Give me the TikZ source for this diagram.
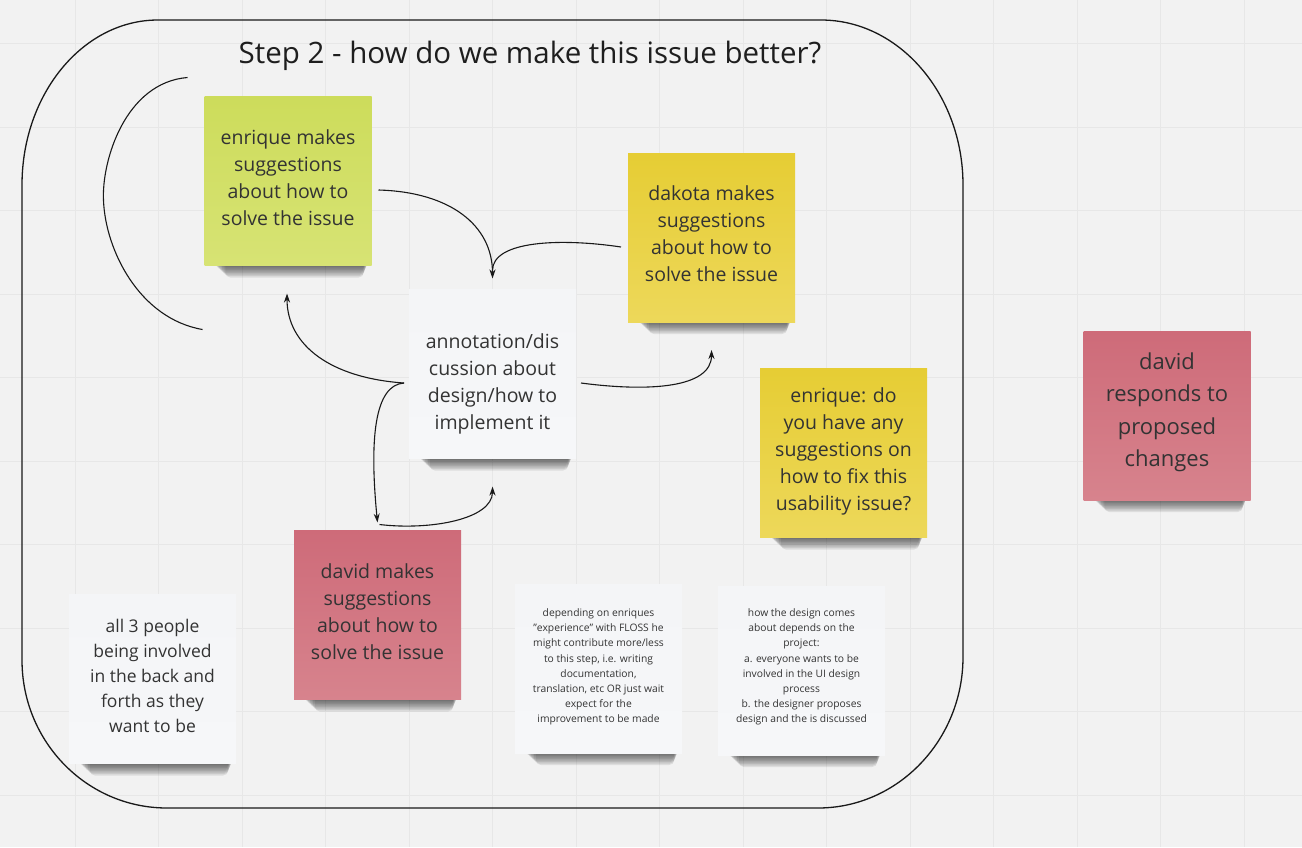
\documentclass[tikz,border=0pt]{standalone}
\usepackage{fontspec}
\setmainfont{Open Sans}
\usetikzlibrary{calc,arrows.meta}
\definecolor{bgc}{HTML}{F2F2F2}
\definecolor{gridc}{HTML}{E7E7E7}
\definecolor{txt}{HTML}{333333}
\definecolor{ttl}{HTML}{1E1E1E}
\definecolor{grT}{HTML}{CDDC5B}
\definecolor{grB}{HTML}{D7E374}
\definecolor{yeT}{HTML}{E6CD34}
\definecolor{yeB}{HTML}{EDD85A}
\definecolor{rdT}{HTML}{CE6B79}
\definecolor{rdB}{HTML}{D7838D}
\definecolor{whT}{HTML}{F4F5F7}
\definecolor{whB}{HTML}{F6F7F9}
\pgfdeclarelayer{bg}
\pgfdeclarelayer{shadow}
\pgfsetlayers{bg,shadow,main}
\newcommand\notesh[1]{%
  \begin{pgfonlayer}{shadow}
    \foreach \d in {1,...,8}{%
      \fill[black,opacity=0.085,rounded corners=5pt]
        ($(#1.south west)+(8+1.6*\d,-20)$) rectangle ($(#1.south east)+(-3-0.6*\d,1.5*\d)$);}
  \end{pgfonlayer}}
\begin{document}
\begin{tikzpicture}[x=1pt,y=-1pt,
  note/.style={minimum width=167pt,minimum height=169pt,inner sep=0pt,outer sep=0pt},
  ntext/.style={align=center,text=txt,inner sep=0pt,font=\fontsize{19.5}{27}\selectfont},
  bigtext/.style={ntext,font=\fontsize{22}{32.5}\selectfont},
  midtext/.style={ntext,font=\fontsize{17.5}{25}\selectfont},
  smalltext/.style={ntext,font=\fontsize{10.3}{15.2}\selectfont},
  gridline/.style={draw=gridc,line width=1pt},
  frame/.style={draw=black!90,line width=1.3pt},
  conn/.style={draw=black!90,line width=1.1pt},
  arr/.style={conn,-{Stealth[length=9pt,width=6pt]}}]

\useasboundingbox (0,0) rectangle (1302,847);

\begin{pgfonlayer}{bg}
  \fill[bgc] (0,0) rectangle (1302,847);
  \foreach \i in {0,...,15} \draw[gridline] ({-8.5+83.5*\i},0) -- ({-8.5+83.5*\i},847);
  \foreach \j in {0,...,9} \draw[gridline] (0,{43.5+83.5*\j}) -- (1302,{43.5+83.5*\j});
  \draw[frame] (22,185) .. controls (22,94) and (83,20) .. (158,20)
    -- (821,20) .. controls (899,20) and (963,94) .. (963,185)
    -- (963,657) .. controls (963,740) and (898,808) .. (818,808)
    -- (167,808) .. controls (87,808) and (22,742) .. (22,660) -- cycle;
\end{pgfonlayer}

% title
\node[text=ttl,font=\fontsize{29.5}{32}\selectfont,inner sep=0pt] (title) at (530,56) {Step 2 - how do we make this issue better?};

% notes
\node[note,top color=grT,bottom color=grB] (green) at (288,181) {};
\node[note,top color=yeT,bottom color=yeB] (dakota) at (711.5,237.5) {};
\node[note,top color=whT,bottom color=whB] (ann) at (492.5,374) {};
\node[note,top color=yeT,bottom color=yeB] (enq) at (843.5,453) {};
\node[note,top color=rdT,bottom color=rdB] (dresp) at (1167,415.5) {};
\node[note,top color=rdT,bottom color=rdB] (dmake) at (377.5,615) {};
\node[note,top color=whT,bottom color=whB] (all3) at (152.5,679) {};
\node[note,top color=whT,bottom color=whB] (dep) at (598.5,668.5) {};
\node[note,top color=whT,bottom color=whB] (howd) at (801.5,670.5) {};

\notesh{green}\notesh{dakota}\notesh{ann}\notesh{enq}\notesh{dresp}
\notesh{dmake}\notesh{all3}\notesh{dep}\notesh{howd}

\node[ntext] (greenT) at ($(green)+(0,-3)$) {enrique makes\\suggestions\\about how to\\solve the issue};
\node[ntext] (dakotaT) at ($(dakota)+(0,-3.5)$) {dakota makes\\suggestions\\about how to\\solve the issue};
\node[ntext] (annT) at ($(ann)+(0,10)$) {annotation/dis\\cussion about\\design/how to\\implement it};
\node[ntext] (enqT) at ($(enq)+(0,-2)$) {enrique: do\\you have any\\suggestions on\\how to fix this\\usability issue?};
\node[bigtext] (drespT) at ($(dresp)+(0,-3)$) {david\\responds to\\proposed\\changes};
\node[ntext] (dmakeT) at ($(dmake)+(0,-3)$) {david makes\\suggestions\\about how to\\solve the issue};
\node[midtext] (all3T) at ($(all3)+(0,-3)$) {all 3 people\\being involved\\in the back and\\forth as they\\want to be};
\node[smalltext] (depT) at ($(dep)+(0,-1.5)$) {depending on enriques\\\symbol{34}experience\symbol{34} with FLOSS he\\might contribute more/less\\to this step, i.e. writing\\documentation,\\translation, etc OR just wait\\expect for the\\improvement to be made};
\node[smalltext] (howdT) at ($(howd)+(0,-3.5)$) {how the design comes\\about depends on the\\project:\\a. everyone wants to be\\involved in the UI design\\process\\b. the designer proposes\\design and the is discussed};

% connector end points
\coordinate (aS) at ($(green.east)+(7,9)$);
\coordinate (aE) at ($(ann.north)+(0,-11)$);
\coordinate (bS) at ($(dakota.west)+(-7,9.5)$);
\coordinate (bE) at ($(ann.north)+(0,-19)$);
\coordinate (lS) at ($(ann.west)+(-5,9)$);
\coordinate (cE) at ($(green.south)+(-1,28)$);
\coordinate (dE) at ($(dmake.north)+(0,-8)$);
\coordinate (eS) at ($(dmake.north)+(2,-6)$);
\coordinate (eE) at ($(ann.south)+(0,28)$);
\coordinate (fS) at ($(ann.east)+(5,9)$);
\coordinate (fE) at ($(dakota.south)+(0,28)$);
\coordinate (gS) at ($(green.north west)+(-17,-19)$);
\coordinate (gM) at ($(green.north west)+(-101,104)$);
\coordinate (gE) at ($(green.south west)+(-2,64)$);

\draw[arr] (aS) .. controls +(72,2) and +(0,-53) .. (aE);
\draw[conn] (bS) .. controls +(-60,-9) and +(0,-30) .. (bE);
\draw[arr] (lS) .. controls +(-73,-5) and +(0,52) .. (cE);
\draw[arr] (lS) .. controls +(-30,2) and +(-8,-82) .. (dE);
\draw[arr] (eS) .. controls +(50,6) and +(0,33) .. (eE);
\draw[arr] (fS) .. controls +(68,9) and +(0,38) .. (fE);
\draw[conn] (gS) .. controls +(-62,5) and +(-2,-40) .. (gM) .. controls +(2,50) and +(-63,-11) .. (gE);
\end{tikzpicture}
\end{document}
